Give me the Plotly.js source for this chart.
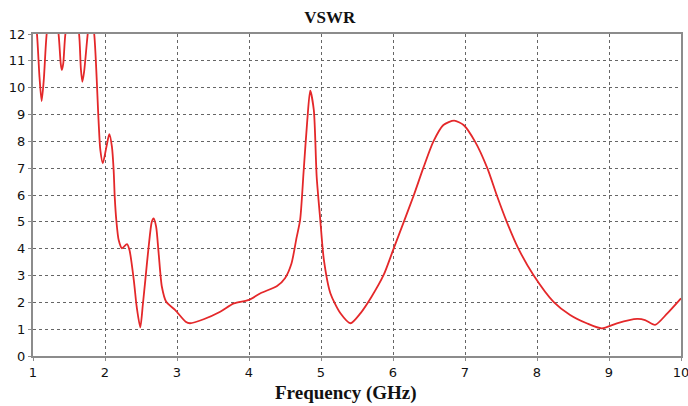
<!DOCTYPE html>
<html>
<head>
<meta charset="utf-8">
<script src="https://cdn.plot.ly/plotly-3.0.1.min.js"></script>
<style>html,body{margin:0;padding:0;background:#fff;}#chart{width:688px;height:406px;}</style>
</head>
<body>
<div id="chart"></div>
<script>
const freq = [1.00,1.055,1.09,1.12,1.15,1.19,1.27,1.355,1.385,1.40,1.42,1.45,1.55,1.64,1.665,1.685,1.71,1.76,1.80,1.85,
  1.91,1.935,1.97,2.02,2.06,2.096,2.12,2.135,2.157,2.19,2.236,2.305,2.34,2.40,2.44,2.49,2.525,2.56,2.606,2.65,2.675,
  2.71,2.745,2.79,2.85,2.976,3.12,3.18,3.37,3.60,3.79,4.00,4.16,4.39,4.50,4.59,4.66,4.71,4.76,4.81,4.85,4.90,4.94,
  4.99,5.04,5.13,5.27,5.41,5.55,5.70,5.87,6.01,6.15,6.29,6.42,6.56,6.70,6.85,6.98,7.14,7.31,7.44,7.58,7.74,7.95,
  8.23,8.46,8.69,8.90,9.11,9.39,9.50,9.64,9.81,10.0];
const vswr = [13.2,12.0,10.4,9.5,10.3,12.0,13.5,12.0,10.9,10.66,10.9,12.0,13.5,12.0,10.7,10.22,10.6,12.0,12.8,12.0,
  8.8,7.68,7.18,7.8,8.27,7.8,6.93,5.94,5.07,4.32,4.01,4.17,3.95,2.83,1.84,1.07,1.9,2.83,4.07,5.0,5.13,
  4.82,3.83,2.58,2.02,1.71,1.28,1.22,1.37,1.65,1.96,2.09,2.34,2.61,2.9,3.45,4.4,5.07,6.93,8.8,9.89,9.17,6.68,
  5.07,3.58,2.34,1.59,1.22,1.6,2.2,3.02,4.01,5.0,6.0,7.0,7.99,8.61,8.77,8.61,7.99,7.0,6.0,5.0,4.01,3.02,
  2.02,1.53,1.22,1.03,1.22,1.38,1.34,1.16,1.59,2.15];
const xTicks = [1,2,3,4,5,6,7,8,9,10];
const yTicks = [0,1,2,3,4,5,6,7,8,9,10,11,12];

const trace = {
  x: freq, y: vswr, type: 'scatter', mode: 'lines',
  line: {color: 'rgb(228,40,42)', width: 1.8, shape: 'spline', smoothing: 0.7},
  hoverinfo: 'skip'
};
const axisCommon = {
  showline: true, linecolor: '#8c8c8c', linewidth: 2, mirror: true,
  showgrid: true, gridcolor: '#666', gridwidth: 1, griddash: 'dot',
  zeroline: false, ticks: 'outside', ticklen: 3, tickcolor: '#8c8c8c',
  ticklabeloverflow: 'allow',
  tickfont: {family: 'DejaVu Sans', size: 13, color: '#111'}, fixedrange: true
};
const layout = {
  width: 688, height: 406,
  margin: {l: 33, r: 7, t: 34, b: 50},
  paper_bgcolor: '#fff', plot_bgcolor: '#fff',
  showlegend: false,
  title: {text: 'VSWR', font: {family: 'Liberation Serif', size: 17, color: '#111', weight: 'bold'},
          xref: 'paper', x: 0.458, xanchor: 'center', yref: 'container', y: 0.957, yanchor: 'middle'},
  xaxis: Object.assign({}, axisCommon, {range: [1, 10], tickvals: xTicks, ticktext: xTicks.map(String)}),
  yaxis: Object.assign({}, axisCommon, {range: [0, 12], tickvals: yTicks, ticktext: yTicks.map(String)}),
  annotations: [{
    text: 'Frequency (GHz)', xref: 'paper', yref: 'paper', x: 0.483, y: -0.115,
    xanchor: 'center', yanchor: 'middle', showarrow: false,
    font: {family: 'Liberation Serif', size: 19, color: '#111', weight: 'bold'}
  }]
};
Plotly.newPlot('chart', [trace], layout, {displayModeBar: false, staticPlot: true});
</script>
</body>
</html>
